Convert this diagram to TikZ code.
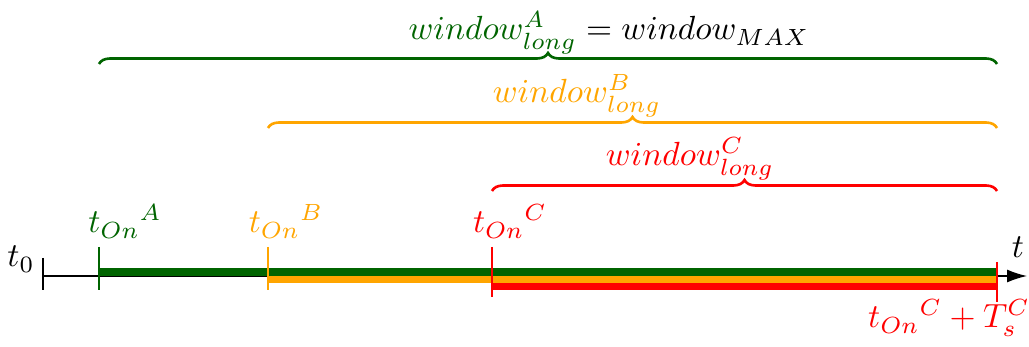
\documentclass[tikz,border=0pt]{standalone}
\usetikzlibrary{decorations.pathreplacing,arrows.meta}
\definecolor{dg}{RGB}{0,100,0}
\definecolor{orng}{RGB}{255,165,0}
\definecolor{rd}{RGB}{255,0,0}
\newcommand{\sbx}[1]{\scalebox{3.35}{#1}}
\begin{document}
\begin{tikzpicture}[x=1pt,y=-1pt,
  lbl/.style={inner sep=0pt,anchor=base},
  bar/.style={line width=7.2pt},
  tick/.style={line width=2pt},
  brc/.style={decorate,decoration={brace,amplitude=11pt},line width=2.6pt},
]
\useasboundingbox (0,0) rectangle (1029,347);
% coordinates along the axis
\coordinate (o) at (43,276);
\coordinate (a) at (99,276);
\coordinate (b) at (268,276);
\coordinate (c) at (492,276);
\coordinate (e) at (997,276);
\coordinate (tip) at (1027,276);
% axis
\draw[line width=1.4pt,-{Latex[length=20pt,width=13pt]}] (o) -- (tip);
\draw[line width=1.4pt] ([yshift=18]o) -- ([yshift=-14]o);
% bars
\draw[bar,dg] ([yshift=4]a) -- ([yshift=4]e);
\draw[bar,orng] ([yshift=-3.5]b) -- ([yshift=-3.5]e);
\draw[bar,rd] ([yshift=-10.5]c) -- ([yshift=-10.5]e);
% ticks
\draw[tick,dg] ([yshift=29]a) -- ([yshift=-14]a);
\draw[tick,orng] ([yshift=29]b) -- ([yshift=-14]b);
\draw[tick,rd] ([yshift=29]c) -- ([yshift=-21]c);
\draw[tick,rd] ([yshift=14]e) -- ([yshift=-26]e);
% tick labels
\node[lbl] (l0) at (21,267) {\sbx{$t_0$}};
\node[lbl,dg] (la) at (125,233) {\sbx{${t_{On}}^{A}$}};
\node[lbl,orng] (lb) at (286,233) {\sbx{${t_{On}}^{B}$}};
\node[lbl,rd] (lc) at (510,233) {\sbx{${t_{On}}^{C}$}};
\node[lbl] (lt) at (1018,258) {\sbx{$t$}};
\node[lbl,rd] (le) at (949,328) {\sbx{${t_{On}}^{C}+T_s^C$}};
% braces
\draw[brc,dg] (99,64) -- (997,64);
\draw[brc,orng] (268,128) -- (997,128);
\draw[brc,rd] (492,191) -- (997,191);
% brace labels
\node[lbl] (wa) at (609,40) {\sbx{${\color{dg}window^A_{long}} = window_{MAX}$}};
\node[lbl,orng] (wb) at (577,103) {\sbx{$window^B_{long}$}};
\node[lbl,rd] (wc) at (690,166) {\sbx{$window^C_{long}$}};
\end{tikzpicture}
\end{document}
